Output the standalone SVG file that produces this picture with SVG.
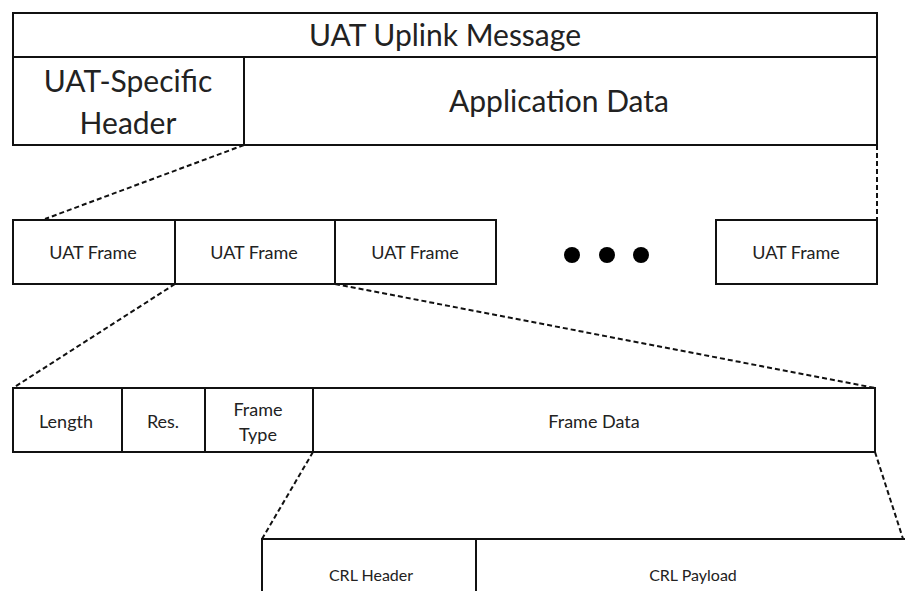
<svg xmlns="http://www.w3.org/2000/svg" width="905" height="591" viewBox="0 0 905 591">
<style>
.b{fill:#fff;stroke:#111;stroke-width:2}
.t{font-family:Lato,"Open Sans",sans-serif;fill:#222;text-anchor:middle;dominant-baseline:central}
.l{font-size:30px}
.m{font-size:18px}
.s{font-size:16px}
.d{fill:none;stroke:#111;stroke-width:2;stroke-dasharray:5 3}
</style>
<rect width="905" height="591" fill="#fff"/>
<g id="connectors">
<line class="d" x1="244" y1="145" x2="45" y2="219"/>
<line class="d" x1="877" y1="145" x2="877" y2="219"/>
<line class="d" x1="175" y1="284" x2="13" y2="388"/>
<line class="d" x1="335" y1="284" x2="875" y2="388"/>
<line class="d" x1="313" y1="452" x2="262" y2="539"/>
<line class="d" x1="875" y1="452" x2="905" y2="545"/>
</g>
<g id="uplink"><rect class="b" x="13" y="13" width="864" height="44"/><text class="t l" x="445" y="34">UAT Uplink Message</text></g>
<g id="header"><rect class="b" x="13" y="57" width="231" height="88"/><text class="t l" x="128" y="80">UAT-Specific</text><text class="t l" x="128" y="122">Header</text></g>
<g id="appdata"><rect class="b" x="244" y="57" width="633" height="88"/><text class="t l" x="559" y="100">Application Data</text></g>
<g id="frame1"><rect class="b" x="13" y="220" width="162" height="64"/><text class="t m" x="93" y="252">UAT Frame</text></g>
<g id="frame2"><rect class="b" x="175" y="220" width="160" height="64"/><text class="t m" x="254" y="252">UAT Frame</text></g>
<g id="frame3"><rect class="b" x="335" y="220" width="161" height="64"/><text class="t m" x="415" y="252">UAT Frame</text></g>
<g id="ellipsis"><circle cx="572" cy="255" r="8" fill="#000"/><circle cx="607" cy="255" r="8" fill="#000"/><circle cx="641" cy="255" r="8" fill="#000"/></g>
<g id="frameN"><rect class="b" x="716" y="220" width="161" height="64"/><text class="t m" x="796" y="252">UAT Frame</text></g>
<g id="length"><rect class="b" x="13" y="388" width="109" height="64"/><text class="t m" x="66" y="421">Length</text></g>
<g id="res"><rect class="b" x="122" y="388" width="83" height="64"/><text class="t m" x="163" y="421">Res.</text></g>
<g id="ftype"><rect class="b" x="205" y="388" width="108" height="64"/><text class="t m" x="258" y="409">Frame</text><text class="t m" x="258" y="434">Type</text></g>
<g id="fdata"><rect class="b" x="313" y="388" width="562" height="64"/><text class="t m" x="594" y="421">Frame Data</text></g>
<g id="crlheader"><rect class="b" x="262" y="539" width="214" height="70"/><text class="t s" x="371" y="574">CRL Header</text></g>
<g id="crlpayload"><rect class="b" x="476" y="539" width="450" height="70"/><text class="t s" x="693" y="574">CRL Payload</text></g>
</svg>
